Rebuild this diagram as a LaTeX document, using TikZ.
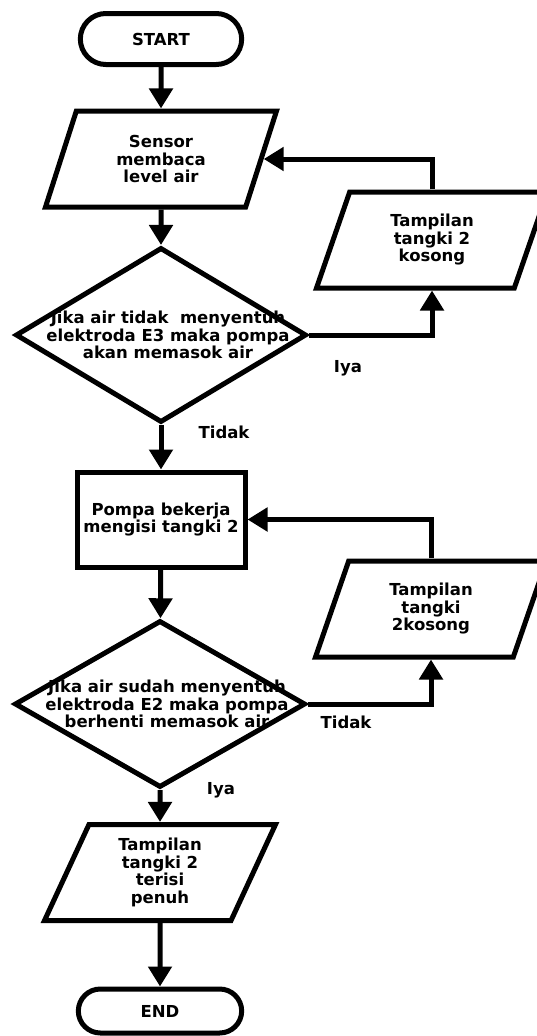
\documentclass[tikz,border=0pt]{standalone}
\usepackage{fontspec}
\setmainfont{DejaVu Sans}
\usetikzlibrary{shapes.geometric,shapes.misc,arrows.meta}
\begin{document}
\begin{tikzpicture}[x=1pt,y=-1pt,
  line width=5pt,
  txt/.style={font=\bfseries\fontsize{16.5}{17.5}\selectfont, align=center},
  term/.style={rounded rectangle, draw, minimum width=168pt, minimum height=51pt, txt},
  io/.style={trapezium, trapezium left angle=57, trapezium right angle=123,
     trapezium stretches body, draw, minimum width=231pt, minimum height=96pt, txt, inner sep=0pt},
  proc/.style={rectangle, draw, minimum width=168pt, minimum height=95pt, txt},
  dec/.style={diamond, draw, minimum width=291pt, minimum height=175pt, inner sep=0pt},
  arr/.style={-{Triangle[width=23pt,length=20pt]}, line width=5pt},
  lbl/.style={txt}
]
\useasboundingbox (0,0) rectangle (537,1036);

\node[term] (start) at (161,39) {START};
\node[io] (p1) at (161,159) {Sensor\\membaca\\level air};
\node[dec, label={[txt,xshift=7pt]center:{Jika air tidak\ \ menyentuh\\elektroda E3 maka pompa\\akan memasok air}}] (d1) at (161,335) {};
\node[io] (r1) at (432,240) {Tampilan\\tangki 2\\kosong};
\node[proc] (rect) at (161,519.5) {Pompa bekerja\\mengisi tangki 2};
\node[io] (r2) at (431,609) {Tampilan\\tangki\\2kosong};
\node[dec, minimum height=167pt, label={[txt,xshift=7pt]center:{Jika air sudah menyentuh\\elektroda E2 maka pompa\\berhenti memasok air}}] (d2) at (160,704) {};
\node[io] (p3) at (160,872.5) {Tampilan\\tangki 2\\terisi\\penuh};
\node[term, minimum width=170pt, minimum height=44pt] (end) at (160,1011) {END};

\node[lbl] (l1) at (348,368) {Iya};
\node[lbl] (l2) at (224,432) {Tidak};
\node[lbl] (l3) at (346,722) {Tidak};
\node[lbl] (l4) at (221,790) {Iya};

\draw[arr] (start) -- (p1);
\draw[arr] (p1) -- (d1);
\draw[arr] (d1.east) -| (r1.south);
\draw[arr] (r1.north) |- (p1.east);
\draw[arr] (d1) -- (rect);
\draw[arr] (rect) -- (d2);
\draw[arr] (d2.east) -| (r2.south);
\draw[arr] (r2.north) |- (rect.east);
\draw[arr] (d2) -- (p3);
\draw[arr] (p3) -- (end);
\end{tikzpicture}
\end{document}
